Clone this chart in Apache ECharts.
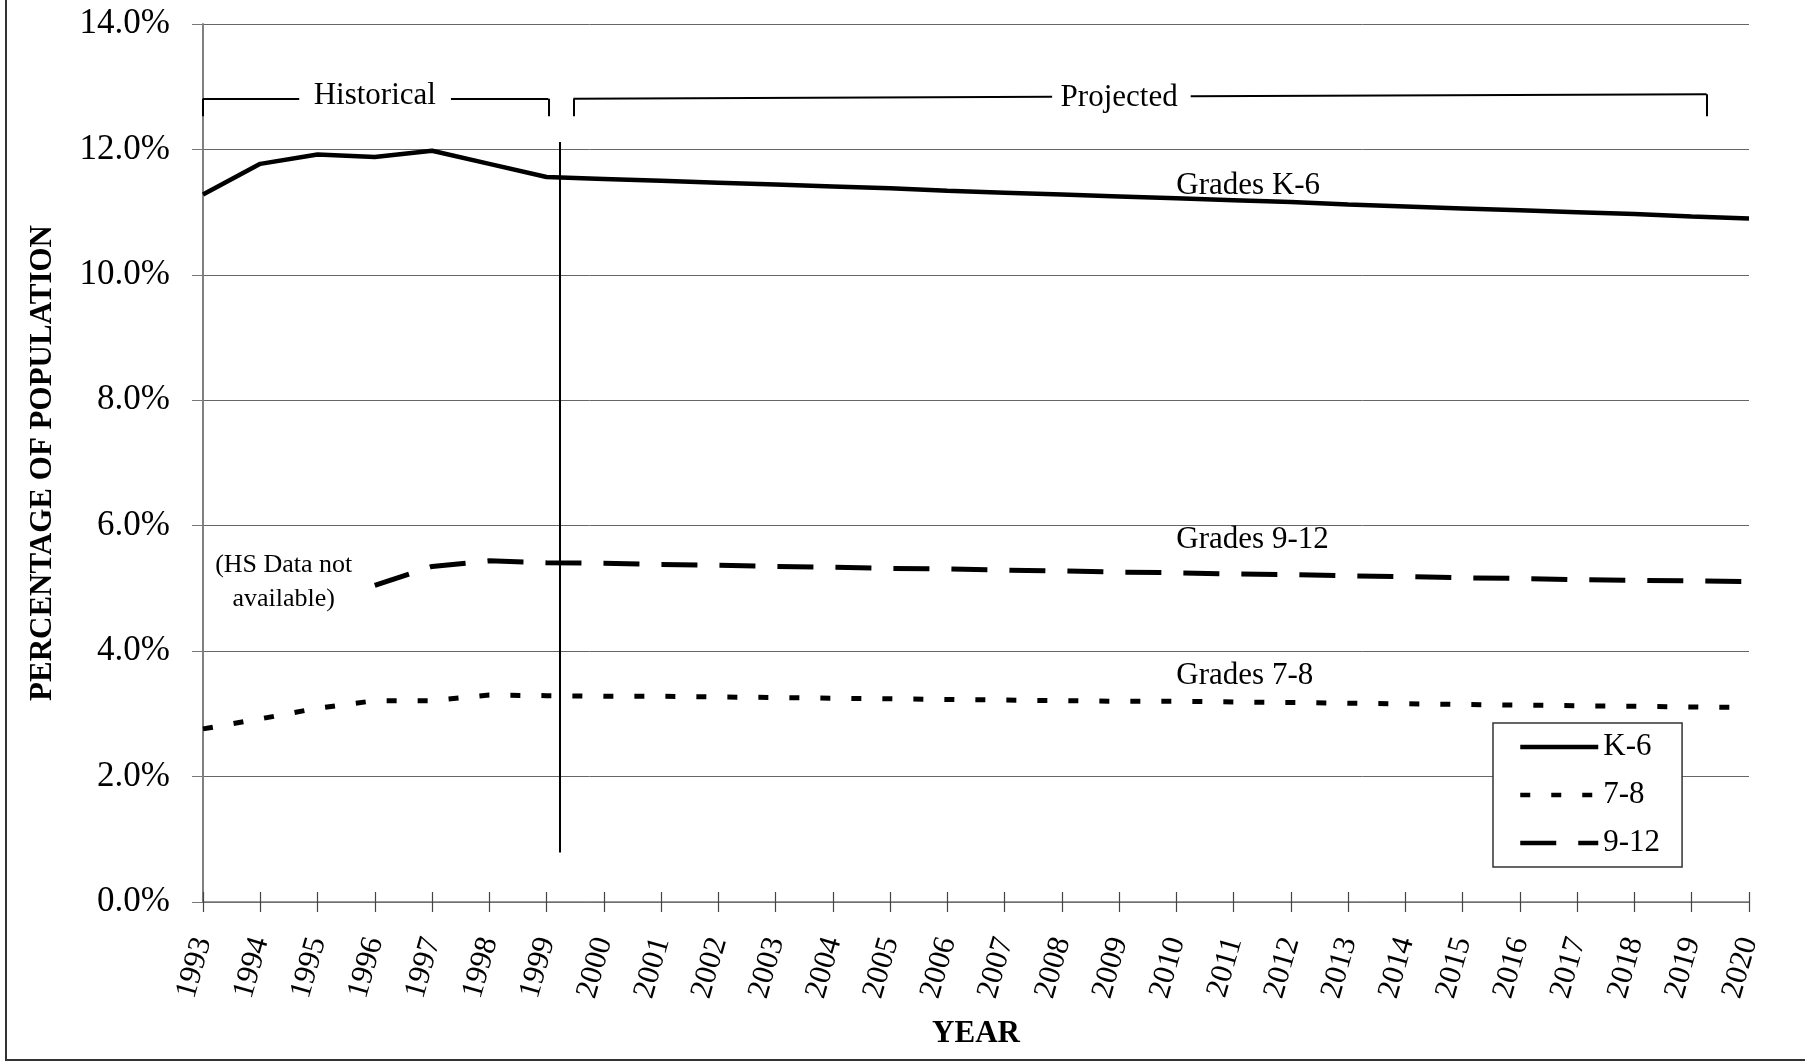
<!DOCTYPE html>
<html>
<head>
<meta charset="utf-8">
<title>Percentage of Population by Grade Group</title>
<script src="https://cdn.jsdelivr.net/npm/echarts@6/dist/echarts.min.js"></script>
<style>
  html, body { margin: 0; padding: 0; background: #fff; }
  #chart { width: 1805px; height: 1063px; }
</style>
</head>
<body>
<div id="chart"></div>
<script>
// Years on the horizontal axis
const years = [1993, 1994, 1995, 1996, 1997, 1998, 1999, 2000, 2001, 2002, 2003, 2004, 2005, 2006,
               2007, 2008, 2009, 2010, 2011, 2012, 2013, 2014, 2015, 2016, 2017, 2018, 2019, 2020];

// Share of total population (%) by grade group; high school has no data before 1996
const gradesK6 = [11.28, 11.77, 11.92, 11.88, 11.98, 11.77, 11.56, 11.53, 11.50, 11.47, 11.44, 11.41, 11.38, 11.34,
                  11.31, 11.28, 11.25, 11.22, 11.19, 11.16, 11.12, 11.09, 11.06, 11.03, 11.00, 10.97, 10.93, 10.90];
const grades78 = [2.76, 2.92, 3.09, 3.21, 3.21, 3.30, 3.29, 3.28, 3.28, 3.27, 3.26, 3.25, 3.24, 3.23,
                  3.22, 3.21, 3.20, 3.20, 3.19, 3.18, 3.17, 3.16, 3.15, 3.14, 3.13, 3.12, 3.11, 3.10];
const grades912 = [null, null, null, 5.05, 5.35, 5.44, 5.41, 5.40, 5.38, 5.37, 5.35, 5.34, 5.32, 5.31,
                   5.29, 5.28, 5.26, 5.25, 5.23, 5.22, 5.20, 5.19, 5.17, 5.16, 5.14, 5.13, 5.12, 5.11];

// Series names shown in the legend
const seriesNames = ['K-6', '7-8', '9-12'];

// Y-axis tick values (%)
const yTicks = [0, 2, 4, 6, 8, 10, 12, 14];

const FONT = 'Liberation Serif';

function pairs(values) {
  const out = [];
  values.forEach((v, i) => { if (v !== null) out.push([years[i], v]); });
  return out;
}

const chart = echarts.init(document.getElementById('chart'), null, { renderer: 'canvas' });

const blackLine = { color: '#000', width: 2, type: 'solid' };
function seg(a, b) {
  return [{ coord: a, lineStyle: blackLine }, { coord: b }];
}
function note(coord, text, pos, extra) {
  return Object.assign({
    coord: coord,
    symbol: 'circle',
    symbolSize: 1,
    itemStyle: { color: 'rgba(0,0,0,0)' },
    label: {
      show: true, position: pos, distance: 0, formatter: text,
      color: '#000', fontFamily: FONT, fontSize: 31
    }
  }, extra || {});
}

const option = {
  animation: false,
  backgroundColor: '#fff',
  textStyle: { fontFamily: FONT, color: '#000' },
  grid: { left: 203, right: 56, top: 24, bottom: 161 },
  legend: {
    orient: 'vertical',
    left: 1493,
    top: 723,
    data: seriesNames,
    backgroundColor: '#fff',
    borderColor: '#333',
    borderWidth: 1.5,
    borderRadius: 0,
    padding: [8, 22, 8, 25],
    itemWidth: 78,
    itemHeight: 14,
    itemGap: 16,
    selectedMode: false,
    itemStyle: { opacity: 0 },
    lineStyle: { width: 4.5 },
    textStyle: { fontFamily: FONT, fontSize: 31, lineHeight: 32, color: '#000' }
  },
  xAxis: [
    {
      type: 'value',
      min: years[0],
      max: years[years.length - 1],
      interval: 1,
      position: 'bottom',
      name: 'YEAR',
      nameLocation: 'middle',
      nameGap: 116,
      nameTextStyle: { fontFamily: FONT, fontSize: 31, fontWeight: 'bold', color: '#000' },
      axisLine: { show: true, lineStyle: { color: '#777', width: 1.5 } },
      axisTick: { show: true, length: 10, lineStyle: { color: '#444', width: 1.2 } },
      axisLabel: {
        rotate: 74,
        margin: 36,
        fontFamily: FONT,
        fontSize: 31,
        color: '#000',
        formatter: v => String(v)
      },
      splitLine: { show: false }
    },
    {
      type: 'value',
      min: years[0],
      max: years[years.length - 1],
      interval: 1,
      position: 'bottom',
      axisLine: { show: false },
      axisTick: { show: true, inside: true, length: 10, lineStyle: { color: '#444', width: 1.2 } },
      axisLabel: { show: false },
      splitLine: { show: false }
    }
  ],
  yAxis: {
    type: 'value',
    min: yTicks[0],
    max: yTicks[yTicks.length - 1],
    interval: 2,
    name: 'PERCENTAGE OF POPULATION',
    nameLocation: 'middle',
    nameRotate: 90,
    nameGap: 145,
    nameTextStyle: { fontFamily: FONT, fontSize: 31, fontWeight: 'bold', color: '#000' },
    axisLine: { show: true, lineStyle: { color: '#808080', width: 2 } },
    axisTick: { show: true, length: 11, lineStyle: { color: '#777', width: 1 } },
    axisLabel: {
      margin: 33,
      fontFamily: FONT,
      fontSize: 35,
      color: '#000',
      formatter: v => v.toFixed(1) + '%'
    },
    splitLine: { show: true, lineStyle: { color: '#666', width: 1 } }
  },
  series: [
    {
      name: seriesNames[0],
      type: 'line',
      data: pairs(gradesK6),
      symbol: 'none',
      lineStyle: { color: '#000', width: 4.5, type: 'solid' },
      itemStyle: { color: '#000' },
      z: 3,
      markLine: {
        silent: true,
        symbol: ['none', 'none'],
        label: { show: false },
        lineStyle: blackLine,
        data: [
          // Historical bracket
          seg([1993, 12.81], [1994.68, 12.81]),
          seg([1997.33, 12.81], [1999.03, 12.81]),
          seg([1993, 12.81], [1993, 12.53]),
          seg([1999.03, 12.81], [1999.03, 12.53]),
          // Projected bracket
          seg([1999.47, 12.81], [2007.83, 12.838]),
          seg([2010.25, 12.848], [2019.26, 12.878]),
          seg([1999.47, 12.81], [1999.47, 12.53]),
          seg([2019.26, 12.878], [2019.26, 12.53]),
          // Divider between historical and projected years
          seg([1999.23, 12.12], [1999.23, 0.79])
        ]
      },
      markPoint: {
        silent: true,
        data: [
          note([1996.0, 12.85], 'Historical', 'inside'),
          note([2009.0, 12.83], 'Projected', 'inside'),
          note([2009.99, 11.42], 'Grades K-6', 'right'),
          note([2009.99, 5.774], 'Grades 9-12', 'right'),
          note([2009.99, 3.607], 'Grades 7-8', 'right'),
          {
            coord: [1994.41, 5.10],
            symbol: 'circle',
            symbolSize: 1,
            itemStyle: { color: 'rgba(0,0,0,0)' },
            label: {
              show: true, position: 'inside', formatter: '(HS Data not\navailable)',
              align: 'center', color: '#000', fontFamily: FONT, fontSize: 26, lineHeight: 34
            }
          }
        ]
      }
    },
    {
      name: seriesNames[1],
      type: 'line',
      data: pairs(grades78),
      symbol: 'none',
      lineStyle: { color: '#000', width: 5, type: [10, 21] },
      itemStyle: { color: '#000' },
      z: 3
    },
    {
      name: seriesNames[2],
      type: 'line',
      data: pairs(grades912),
      symbol: 'none',
      lineStyle: { color: '#000', width: 5, type: [36, 22] },
      itemStyle: { color: '#000' },
      z: 3
    }
  ],
  graphic: [
    {
      type: 'rect',
      silent: true,
      z: 100,
      shape: { x: 6, y: -10, width: 1830, height: 1070 },
      style: { fill: 'none', stroke: '#333', lineWidth: 2 }
    }
  ]
};

chart.setOption(option);
</script>
</body>
</html>
